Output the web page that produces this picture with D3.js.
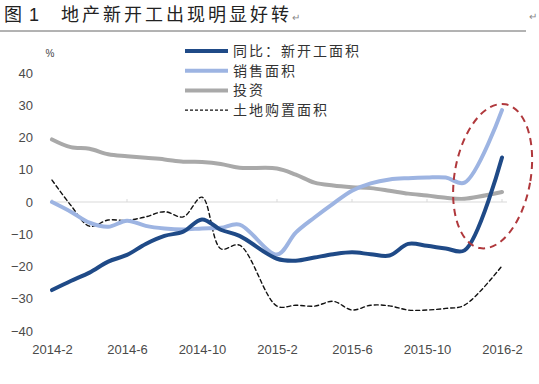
<!DOCTYPE html>
<html>
<head>
<meta charset="utf-8">
<script src="https://cdn.jsdelivr.net/npm/d3@7"></script>
<style>
  body { margin: 0; background: #fff; }
  svg { display: block; }
</style>
</head>
<body>
<div id="chart"></div>
<script>
// months on a date-style axis (no January points)
const months = ["2014-2","2014-3","2014-4","2014-5","2014-6","2014-7","2014-8","2014-9","2014-10","2014-11","2014-12",
                "2015-2","2015-3","2015-4","2015-5","2015-6","2015-7","2015-8","2015-9","2015-10","2015-11","2015-12",
                "2016-2"];
const newStart = [-27.3,-24.5,-21.9,-18.5,-16.4,-13.0,-10.5,-9.2,-5.4,-8.6,-10.5,
                  -17.6,-18.2,-17.2,-16.2,-15.6,-16.2,-16.6,-13.0,-13.6,-14.4,-15.0,
                  13.8];
const sales = [0.0,-3.0,-6.4,-7.7,-5.8,-7.4,-8.2,-8.5,-8.2,-8.0,-7.0,
               -16.3,-9.5,-4.8,-0.5,3.5,5.8,7.0,7.4,7.6,7.6,6.0,
               28.5];
const invest = [19.4,17.0,16.5,14.8,14.2,13.7,13.2,12.5,12.4,11.8,10.6,
                10.4,8.5,6.0,5.1,4.6,4.3,3.5,2.6,2.0,1.3,1.0,
                3.1];
const land = [6.8,-1.0,-7.5,-5.6,-5.7,-4.6,-3.0,-4.6,1.5,-14.5,-13.4,
              -32.3,-32.0,-32.3,-30.8,-33.5,-32.0,-32.2,-33.5,-33.5,-33.0,-32.0,
              -19.8];
const xTicks = ["2014-2","2014-6","2014-10","2015-2","2015-6","2015-10","2016-2"];
const yTicks = [-40,-30,-20,-10,0,10,20,30,40];
const seriesNames = ["同比：新开工面积","销售面积","投资","土地购置面积"];

const width = 539, height = 384;
const monthIdx = s => { const [yy, mm] = s.split("-").map(Number); return (yy - 2014) * 12 + mm - 2; };

const x = d3.scaleLinear().domain([0, 24]).range([52, 502]);
const y = d3.scaleLinear().domain([-40, 40]).range([331, 73]);

const svg = d3.select("#chart").append("svg")
    .attr("width", width)
    .attr("height", height)
    .attr("viewBox", [0, 0, width, height]);

const cjk = "'Noto Sans CJK SC', 'Noto Sans', sans-serif";
const num = "'Liberation Sans', Arial, sans-serif";

// title + rule
const title = svg.append("g")
    .style("font-family", cjk).style("font-size", "18px").attr("fill", "#222");
title.append("text").attr("x", 4).attr("y", 21).text("图");
title.append("text").attr("x", 29).attr("y", 21).style("font-family", num).text("1");
title.append("text")
    .attr("x", 61).attr("y", 21)
    .style("letter-spacing", "3px")
    .text("地产新开工出现明显好转")
    .append("tspan").style("font-size", "10px").style("letter-spacing", "0px").attr("fill", "#888").text("↵");
svg.append("text")
    .attr("x", 529).attr("y", 20)
    .style("font-family", cjk).style("font-size", "10px").attr("fill", "#888")
    .text("↵");
svg.append("line")
    .attr("x1", 0).attr("x2", 526).attr("y1", 31).attr("y2", 31)
    .attr("stroke", "#666").attr("stroke-width", 1);

// unit
svg.append("text")
    .attr("x", 50).attr("y", 57).attr("text-anchor", "middle")
    .style("font-family", num).style("font-size", "10px").attr("fill", "#444")
    .text("%");

// zero line with small ticks
svg.append("line")
    .attr("x1", x(0)).attr("x2", x(24) + 5)
    .attr("y1", y(0)).attr("y2", y(0))
    .attr("stroke", "#d9d9d9").attr("stroke-width", 1);
svg.append("g")
    .selectAll("line")
    .data(xTicks)
    .join("line")
    .attr("x1", d => x(monthIdx(d))).attr("x2", d => x(monthIdx(d)))
    .attr("y1", y(0) - 3).attr("y2", y(0))
    .attr("stroke", "#d9d9d9");

// axes
svg.append("g")
    .attr("transform", `translate(${x(0)},0)`)
    .call(d3.axisLeft(y).tickValues(yTicks).tickSize(0).tickPadding(19))
    .call(g => g.select(".domain").remove())
    .call(g => g.selectAll("text").style("font-family", num).style("font-size", "13px").attr("fill", "#4a4a4a"));

svg.append("g")
    .attr("transform", `translate(0,${y(-40)})`)
    .call(d3.axisBottom(x).tickValues(xTicks.map(monthIdx)).tickFormat((d, i) => xTicks[i]).tickSize(0).tickPadding(14))
    .call(g => g.select(".domain").remove())
    .call(g => g.selectAll("text").style("font-family", num).style("font-size", "13px").attr("fill", "#4a4a4a"));

// lines
const line = d3.line()
    .x(d => x(d[0]))
    .y(d => y(d[1]))
    .curve(d3.curveCatmullRom.alpha(0.5));

const series = [
    {name: seriesNames[2], values: invest, color: "#a9a9a9", w: 4, dash: null},
    {name: seriesNames[3], values: land, color: "#111", w: 1.4, dash: "4,3"},
    {name: seriesNames[1], values: sales, color: "#9db4e2", w: 4, dash: null},
    {name: seriesNames[0], values: newStart, color: "#1f4a87", w: 4, dash: null}
];

svg.append("g")
    .attr("fill", "none")
    .selectAll("path")
    .data(series)
    .join("path")
    .attr("stroke", d => d.color)
    .attr("stroke-width", d => d.w)
    .attr("stroke-dasharray", d => d.dash)
    .attr("stroke-linejoin", "round")
    .attr("stroke-linecap", "round")
    .attr("d", d => line(months.map((m, i) => [monthIdx(m), d.values[i]])));

// highlight ellipse
const ecx = x(23.5), ecy = y(8);
svg.append("ellipse")
    .attr("cx", ecx).attr("cy", ecy)
    .attr("rx", 38).attr("ry", 73)
    .attr("transform", `rotate(10,${ecx},${ecy})`)
    .attr("fill", "none")
    .attr("stroke", "#b0383c")
    .attr("stroke-width", 2)
    .attr("stroke-dasharray", "7,5");

// legend
const legendOrder = [series[3], series[2], series[0], series[1]];
const lg = svg.append("g")
    .selectAll("g")
    .data(legendOrder)
    .join("g")
    .attr("transform", (d, i) => `translate(185,${51 + i * 19.7})`);
lg.append("line")
    .attr("x1", 0).attr("x2", 43)
    .attr("stroke", d => d.color)
    .attr("stroke-width", d => d.dash ? 1.4 : 4)
    .attr("stroke-dasharray", d => d.dash ? "3,2" : null);
lg.append("text")
    .attr("x", 48).attr("y", 5)
    .style("font-family", cjk).style("font-size", "14px").style("letter-spacing", "2px")
    .attr("fill", "#333")
    .text(d => d.name);
</script>
</body>
</html>
